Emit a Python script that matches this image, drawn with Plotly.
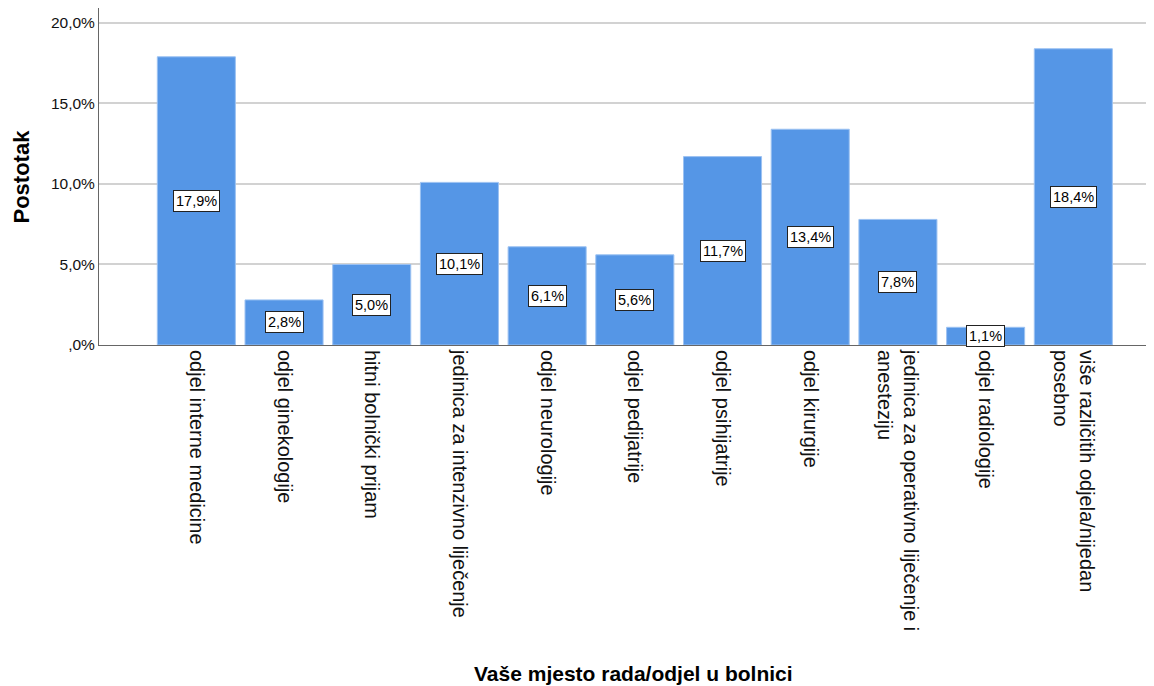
import plotly.graph_objects as go

# data
categories = [
    "odjel interne medicine",
    "odjel ginekologije",
    "hitni bolnički prijam",
    "jedinica za intenzivno liječenje",
    "odjel neurologije",
    "odjel pedijatrije",
    "odjel psihijatrije",
    "odjel kirurgije",
    "jedinica za operativno liječenje i<br>anesteziju",
    "odjel radiologije",
    "više različitih odjela/nijedan<br>posebno",
]
percent = [17.9, 2.8, 5.0, 10.1, 6.1, 5.6, 11.7, 13.4, 7.8, 1.1, 18.4]
y_tick_vals = [0, 5, 10, 15, 20]
y_tick_text = [",0%", "5,0%", "10,0%", "15,0%", "20,0%"]

FONT = "Liberation Sans, Arial, sans-serif"
BAR = "#5596e6"

# page body has an 8px margin, so the figure is sized to fill the rest
W, H = 1146, 678
L, R, T, B = 91, 0, 0, 341
pw, ph = W - L - R, H - T - B

x_idx = list(range(len(categories)))

fig = go.Figure()
fig.add_trace(go.Bar(
    x=x_idx,
    y=percent,
    width=0.89,
    marker=dict(color=BAR, line=dict(color="#9cc2f2", width=1)),
    hoverinfo="skip",
))

# value labels in boxes, at half of each bar
for i, v in zip(x_idx, percent):
    fig.add_annotation(
        x=i, y=v / 2, xref="x", yref="y",
        text=f"{v:.1f}%".replace(".", ","),
        showarrow=False,
        font=dict(family=FONT, size=14.5, color="black"),
        bgcolor="white", bordercolor="#222222", borderwidth=1, borderpad=2,
    )

# axis titles
fig.add_annotation(
    x=(13 - L) / pw, y=0.5, xref="paper", yref="paper",
    xanchor="center", yanchor="middle",
    text="<b>Postotak</b>", textangle=-90, showarrow=False,
    font=dict(family=FONT, size=22, color="black"),
)
fig.add_annotation(
    x=(625 - L) / pw, y=(H - 665 - B) / ph, xref="paper", yref="paper",
    xanchor="center", yanchor="middle",
    text="<b>Vaše mjesto rada/odjel u bolnici</b>", showarrow=False,
    font=dict(family=FONT, size=21, color="black"),
)

fig.update_layout(
    width=W, height=H,
    margin=dict(l=L, r=R, t=T, b=B, autoexpand=False),
    plot_bgcolor="white", paper_bgcolor="white",
    showlegend=False,
    font=dict(family=FONT, color="black"),
)
fig.update_xaxes(
    range=[-1.11, 10.92],
    tickvals=x_idx, ticktext=categories,
    tickangle=90,
    tickfont=dict(family=FONT, size=20, color="#111111"),
    showgrid=False, ticks="", ticklen=0,
    showline=True, linecolor="#666666", linewidth=1,
    zeroline=False, automargin=False,
)
fig.update_yaxes(
    range=[0, 20.93],
    tickvals=y_tick_vals, ticktext=y_tick_text,
    tickfont=dict(family=FONT, size=15.5, color="#111111"),
    showgrid=True, gridcolor="#d2d2d2", gridwidth=1.5,
    showline=True, linecolor="#666666", linewidth=1,
    ticks="", zeroline=False, automargin=False,
)

fig.write_html("out.html")
